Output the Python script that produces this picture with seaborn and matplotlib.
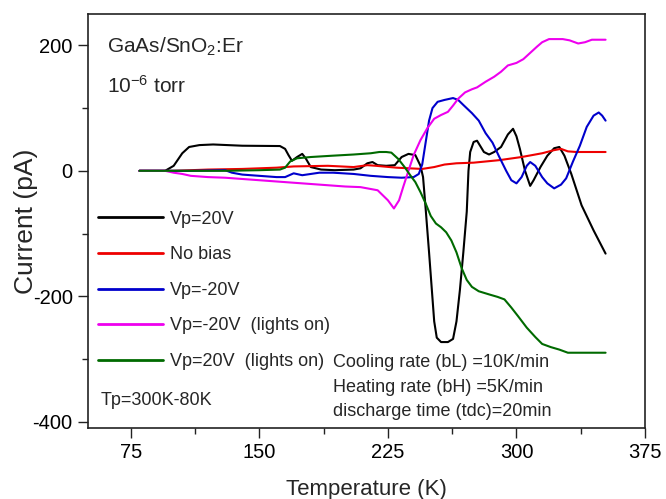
import numpy as np
import pandas as pd
import matplotlib
matplotlib.use("Agg")
import matplotlib.pyplot as plt
from matplotlib.ticker import MultipleLocator
import seaborn as sns

# Thermally stimulated current, GaAs/SnO2:Er sample
vp20_T = [80, 95, 100, 105, 109, 115, 123, 140, 162, 165, 167, 169, 172, 175, 177, 180, 186, 194,
          205, 209, 213, 216, 219, 224, 229, 233, 237, 241, 244, 245.5, 247, 249, 250.5, 252, 253.5,
          256, 260, 263, 265, 267, 269, 271, 272, 273, 275, 277, 281, 284, 287, 291, 295, 298, 300,
          302, 305, 308, 310, 314, 318, 322, 325, 328, 332, 338, 345, 352]
vp20_I = [0, 0, 8, 28, 38, 41, 42, 40, 39.5, 35, 25, 16, 22, 27, 20, 6, 2, 1,
          2, 4, 12, 14, 9, 8, 9, 22, 27, 25, 8, -10, -60, -130, -185, -240, -266,
          -273, -273, -268, -240, -190, -130, -65, 0, 30, 46, 48, 30, 26, 30, 38, 58, 67, 55,
          35, 0, -24, -15, 6, 24, 36, 38, 24, -5, -55, -95, -132]

nobias_T = [80, 100, 120, 140, 160, 170, 190, 205, 213, 218, 230, 245, 252, 258, 265, 275, 290,
            303, 315, 322, 326, 330, 335, 352]
nobias_I = [0, 0, 2, 3, 5, 7, 8, 6, 9, 8, 5, 3, 6, 10, 12, 13, 17,
            22, 28, 33, 35, 31, 30, 30]

vm20_T = [80, 110, 130, 134, 140, 150, 160, 165, 170, 175, 180, 185, 193, 205, 215, 225, 233, 240,
          243, 245, 247, 249, 251, 254, 258, 263, 266, 269, 274, 278, 282, 286, 290, 294, 297, 300,
          303, 306, 308, 311, 315, 318, 322, 326, 329, 333, 337, 341, 345, 348, 350, 352]
vm20_I = [0, 0, 1, -3, -6, -8, -10, -10, -4, -7, -5, -3, -3, -5, -8, -10, -11, -10,
          -5, 10, 45, 80, 100, 110, 113, 116, 113, 105, 92, 80, 60, 45, 22, 0, -15, -20,
          -10, 8, 14, 8, -10, -20, -28, -22, -12, 15, 40, 70, 88, 93, 88, 80]

vm20_lit_T = [80, 95, 100, 105, 110, 120, 130, 140, 150, 160, 175, 190, 200, 209, 219, 225, 228.5,
              231.5, 234, 236.5, 240, 244, 248, 252, 256, 260, 263, 266, 270, 274, 277, 282, 287,
              291, 295, 300, 304, 308, 312, 315, 319, 327, 331, 336, 340, 344, 352]
vm20_lit_I = [0, 0, -3, -5, -8, -10, -11, -13, -15, -17, -20, -23, -25, -26, -31, -47, -60,
              -47, -25, -4, 25, 49, 68, 83, 89, 94, 104, 115, 125, 130, 133, 142, 150,
              158, 168, 172, 178, 188, 198, 205, 210, 210, 208, 203, 205, 209, 209]

vp20_lit_T = [80, 100, 130, 150, 162, 165, 168, 172, 180, 192, 205, 215, 220, 224, 227, 231, 235,
              238, 241, 244, 247, 250, 253, 256, 259, 262, 265, 268, 271, 274, 278, 284, 289, 293,
              297, 301, 306, 311, 315, 320, 325, 330, 352]
vp20_lit_I = [0, 0, 0, 1, 2, 5, 15, 20, 22, 24, 26, 28, 30, 30, 29, 19, 5,
              -7, -18, -34, -52, -72, -84, -90, -98, -111, -130, -155, -174, -185, -192, -197, -201, -205,
              -218, -232, -250, -265, -276, -281, -285, -290, -290]

series_labels = ["Vp=20V", "No bias", "Vp=-20V", "Vp=-20V  (lights on)", "Vp=20V  (lights on)"]
series_colors = ["#000000", "#ee0000", "#0000cc", "#ee00ee", "#006a00"]

x_ticks = [75, 150, 225, 300, 375]
y_ticks = [-400, -200, 0, 200]

frames = []
for lab, T, I in zip(series_labels,
                     [vp20_T, nobias_T, vm20_T, vm20_lit_T, vp20_lit_T],
                     [vp20_I, nobias_I, vm20_I, vm20_lit_I, vp20_lit_I]):
    frames.append(pd.DataFrame({"Temperature": T, "Current": I, "series": lab}))
df = pd.concat(frames, ignore_index=True)

sns.set_style("ticks")
plt.rcParams["font.family"] = ["Liberation Sans", "DejaVu Sans"]
plt.rcParams["mathtext.fontset"] = "custom"
plt.rcParams["mathtext.rm"] = "Liberation Sans"
plt.rcParams["mathtext.it"] = "Liberation Sans"
plt.rcParams["axes.unicode_minus"] = False

fig = plt.figure(figsize=(6.66, 4.99), dpi=100)
ax = fig.add_axes([88 / 666, 1 - 428 / 499, 557 / 666, 414 / 499])

sns.lineplot(data=df, x="Temperature", y="Current", hue="series",
             hue_order=series_labels, palette=series_colors, sort=False,
             estimator=None, linewidth=1.5, ax=ax)

ax.set_xlim(50, 375)
ax.set_ylim(-410, 250)
ax.set_xticks(x_ticks)
ax.set_yticks(y_ticks)
ax.xaxis.set_minor_locator(MultipleLocator(37.5))
ax.yaxis.set_minor_locator(MultipleLocator(100))
ax.tick_params(which="major", direction="out", length=7, width=1, labelsize=14.5, pad=4,
               colors="#222222", labelcolor="black")
ax.tick_params(which="minor", direction="out", length=4, width=1, colors="#222222")
for s in ax.spines.values():
    s.set_visible(True)
    s.set_linewidth(1.2)
    s.set_color("#222222")

ax.set_xlabel("Temperature (K)", fontsize=16, labelpad=12)
ax.set_ylabel("Current (pA)", fontsize=19, labelpad=-4)

leg = ax.legend(loc="upper left", bbox_to_anchor=(0.018, 0.525), frameon=False,
                fontsize=13, handlelength=3.6, handletextpad=0.4, labelspacing=1.03,
                borderpad=0, borderaxespad=0)
for h in leg.get_lines():
    h.set_linewidth(2)

ax.text(0.034, 0.906, r"GaAs/SnO$_2$:Er", transform=ax.transAxes, fontsize=15, va="baseline")
ax.text(0.034, 0.809, r"10$^{-6}$ torr", transform=ax.transAxes, fontsize=15, va="baseline")
ax.text(0.022, 0.056, "Tp=300K-80K", transform=ax.transAxes, fontsize=13, va="baseline")
ax.text(0.44, 0.148, "Cooling rate (bL) =10K/min", transform=ax.transAxes, fontsize=13, va="baseline")
ax.text(0.44, 0.088, "Heating rate (bH) =5K/min", transform=ax.transAxes, fontsize=13, va="baseline")
ax.text(0.44, 0.030, "discharge time (tdc)=20min", transform=ax.transAxes, fontsize=13, va="baseline")

fig.savefig("out.png", dpi=100)
